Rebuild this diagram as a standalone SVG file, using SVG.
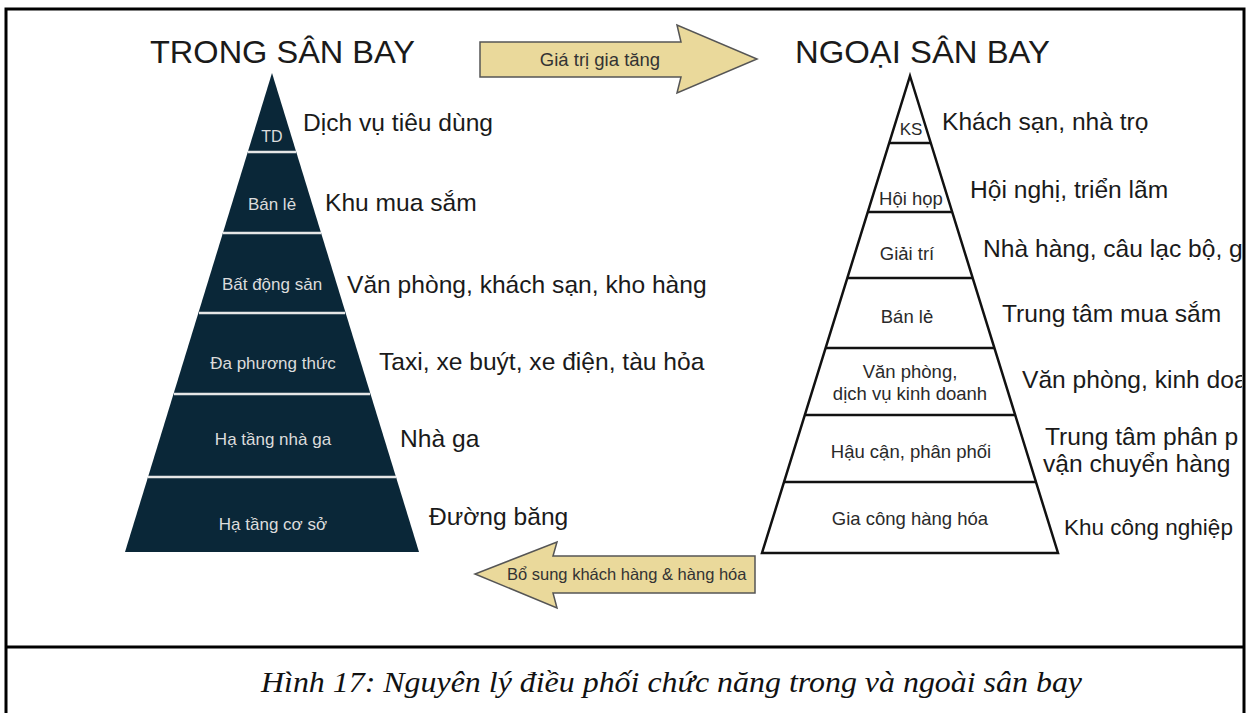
<svg xmlns="http://www.w3.org/2000/svg" width="1246" height="713" viewBox="0 0 1246 713">
<style>
.title{font-family:"Liberation Sans",Arial,sans-serif;font-size:31px;fill:#1a1a1a}
.lab{font-family:"Liberation Sans",Arial,sans-serif;font-size:24.6px;fill:#1a1a1a}
.inL{font-family:"Liberation Sans",Arial,sans-serif;font-size:17px;fill:#dcdcdc;text-anchor:middle}
.inR{font-family:"Liberation Sans",Arial,sans-serif;font-size:18.5px;fill:#2a2a2a;text-anchor:middle}
.arr{fill:#EAD99B;stroke:#555;stroke-width:1.5}
.arrt{font-family:"Liberation Sans",Arial,sans-serif;font-size:18.5px;fill:#333}
.divL{stroke:#e6e6e6;stroke-width:2.5}
.divR{stroke:#111;stroke-width:2.5}
.cap{font-family:"Liberation Serif","Times New Roman",serif;font-style:italic;font-size:30px;fill:#111}
</style>
<defs>
<clipPath id="frame"><rect x="0" y="0" width="1242" height="713"/></clipPath>
<clipPath id="barr"><rect x="470" y="540" width="282" height="80"/></clipPath>
</defs>
<rect x="0" y="0" width="1246" height="713" fill="#fff"/>
<g id="frame-border" fill="none" stroke="#000" stroke-width="3">
<path d="M6,713 V9 H1244 V713"/>
<line x1="6" y1="647" x2="1244" y2="647"/>
</g>
<g id="title-left"><text class="title" x="150" y="63" textLength="265" lengthAdjust="spacingAndGlyphs">TRONG SÂN BAY</text></g>
<g id="title-right"><text class="title" x="795" y="63" textLength="255" lengthAdjust="spacingAndGlyphs">NGOẠI SÂN BAY</text></g>

<g id="pyramid-left">
<polygon points="272,73 419,552 125,552" fill="#0a2738"/>
<line class="divL" x1="248" y1="152" x2="296" y2="152"/>
<line class="divL" x1="223" y1="233" x2="321" y2="233"/>
<line class="divL" x1="199" y1="313" x2="345" y2="313"/>
<line class="divL" x1="174" y1="394" x2="370" y2="394"/>
<line class="divL" x1="148" y1="477" x2="396" y2="477"/>
<text class="inL" x="272" y="142" style="font-size:16px">TD</text>
<text class="inL" x="272" y="210">Bán lẻ</text>
<text class="inL" x="272" y="290">Bất động sản</text>
<text class="inL" x="273" y="369">Đa phương thức</text>
<text class="inL" x="273" y="445">Hạ tầng nhà ga</text>
<text class="inL" x="273" y="530">Hạ tầng cơ sở</text>
</g>
<g id="labels-left">
<text class="lab" x="303" y="131">Dịch vụ tiêu dùng</text>
<text class="lab" x="325" y="211">Khu mua sắm</text>
<text class="lab" x="347" y="293">Văn phòng, khách sạn, kho hàng</text>
<text class="lab" x="379" y="370">Taxi, xe buýt, xe điện, tàu hỏa</text>
<text class="lab" x="400" y="447">Nhà ga</text>
<text class="lab" x="429" y="525">Đường băng</text>
</g>

<g id="pyramid-right">
<polygon points="910,76 1058,553 762,553" fill="#fff" stroke="#111" stroke-width="2.5" stroke-linejoin="miter"/>
<line class="divR" x1="889" y1="143" x2="931" y2="143"/>
<line class="divR" x1="868" y1="212" x2="952" y2="212"/>
<line class="divR" x1="847" y1="278" x2="973" y2="278"/>
<line class="divR" x1="825" y1="348" x2="995" y2="348"/>
<line class="divR" x1="804" y1="415" x2="1016" y2="415"/>
<line class="divR" x1="783" y1="482" x2="1037" y2="482"/>
<text class="inR" x="911" y="135" style="font-size:17px">KS</text>
<text class="inR" x="911" y="205">Hội họp</text>
<text class="inR" x="907" y="260">Giải trí</text>
<text class="inR" x="907" y="323">Bán lẻ</text>
<text class="inR" x="910" y="378">Văn phòng,</text>
<text class="inR" x="910" y="400">dịch vụ kinh doanh</text>
<text class="inR" x="911" y="458">Hậu cận, phân phối</text>
<text class="inR" x="910" y="525">Gia công hàng hóa</text>
</g>
<g id="labels-right" clip-path="url(#frame)">
<text class="lab" x="942" y="130">Khách sạn, nhà trọ</text>
<text class="lab" x="970" y="198">Hội nghị, triển lãm</text>
<text class="lab" x="983" y="257">Nhà hàng, câu lạc bộ, g</text>
<text class="lab" x="1002" y="322">Trung tâm mua sắm</text>
<text class="lab" x="1022" y="388">Văn phòng, kinh doa</text>
<text class="lab" x="1045" y="445">Trung tâm phân p</text>
<text class="lab" x="1043" y="472">vận chuyển hàng</text>
</g>
<g id="label-khu">
<text class="lab" x="1064" y="535" style="font-size:22.5px">Khu công nghiệp</text>
</g>

<g id="connectors">
<g id="arrow-top">
<polygon class="arr" points="480,42 681,42 677,25 757,59 677,93 681,77 480,77"/>
<text class="arrt" x="600" y="66" text-anchor="middle">Giá trị gia tăng</text>
</g>
<g id="arrow-bottom">
<polygon class="arr" points="755,556 553,556 557,542 475,574 557,608 553,593 755,593"/>
<text class="arrt" x="507" y="580" style="font-size:16.5px" clip-path="url(#barr)">Bổ sung khách hàng &amp; hàng hóa</text>
</g>
</g>

<g id="caption">
<text class="cap" x="261" y="692" textLength="821" lengthAdjust="spacingAndGlyphs">Hình 17: Nguyên lý điều phối chức năng trong và ngoài sân bay</text>
</g>
</svg>
